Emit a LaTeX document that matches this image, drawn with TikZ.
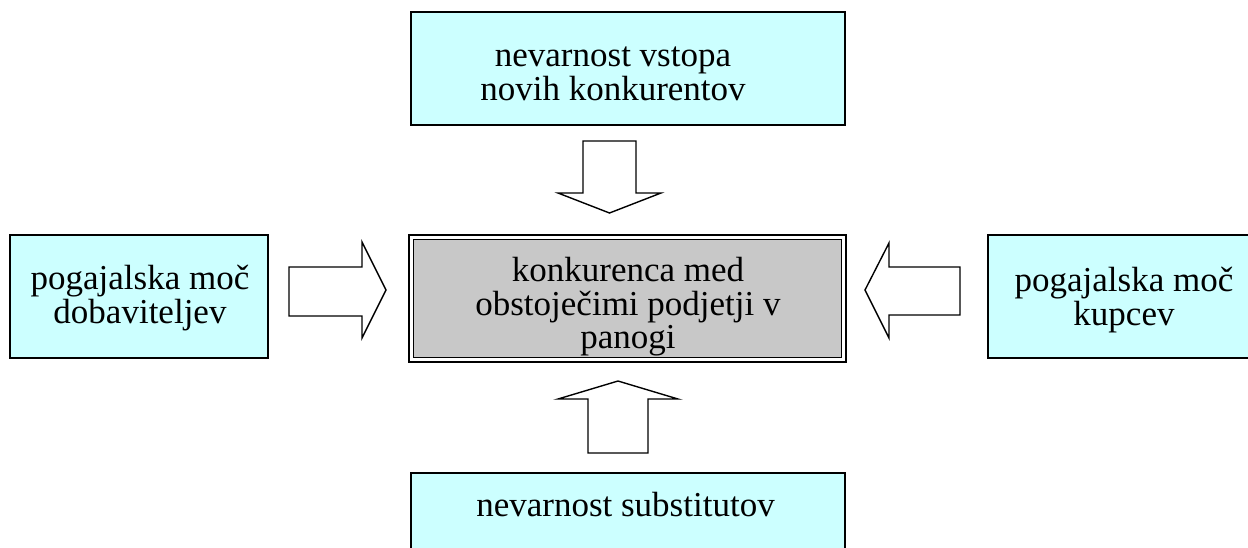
\documentclass[tikz,border=0pt]{standalone}
\usepackage{fontspec}
\setmainfont{Liberation Serif}
\definecolor{boxcyan}{HTML}{CCFFFF}
\definecolor{boxgray}{RGB}{200,200,200}
\begin{document}
\begin{tikzpicture}[x=1pt,y=-1pt,
  cyanbox/.style={draw=black,line width=1.6pt,fill=boxcyan,inner sep=0pt},
  lbl/.style={align=center,inner sep=0pt,font=\fontsize{35}{33.5}\selectfont},
  blockarrow/.style={draw=black,line width=1.4pt,fill=white,line join=miter}]
\useasboundingbox (0,0) rectangle (1248,547);
\clip (0,0) rectangle (1248,547);
% boxes
\node[cyanbox,minimum width=434pt,minimum height=113pt] (top) at (628,68.5) {};
\node[lbl] (topT) at (613,74) {nevarnost vstopa\\novih konkurentov};
\node[cyanbox,minimum width=258pt,minimum height=123pt] (left) at (139,296.5) {};
\node[lbl] (leftT) at (140,298) {pogajalska moč\\dobaviteljev};
\node[cyanbox,minimum width=272pt,minimum height=123pt] (right) at (1124,296.5) {};
\node[lbl] (rightT) at (1124,300) {pogajalska moč\\kupcev};
\node[draw=black,line width=2.6pt,fill=white,minimum width=437pt,minimum height=127pt,inner sep=0pt] (mid) at (627.5,298.5) {};
\node[draw=black,line width=1.2pt,fill=boxgray,minimum width=428pt,minimum height=118pt,inner sep=0pt] (midIn) at (mid.center) {};
\node[lbl] (midT) at (628,307) {konkurenca med\\obstoječimi podjetji v\\panogi};
\node[cyanbox,minimum width=434pt,minimum height=120pt] (bot) at (628,533) {};
\node[lbl,anchor=base] (botT) at (625.5,516) {nevarnost substitutov};
% block arrows
\draw[blockarrow] (583,141) -- (636,141) -- (636,193) -- (661,193) -- (609.5,213) -- (558,193) -- (583,193) -- cycle;
\draw[blockarrow] (588,453) -- (648,453) -- (648,399) -- (678,399) -- (618,381) -- (558,399) -- (588,399) -- cycle;
\draw[blockarrow] (289,267) -- (362,267) -- (362,242) -- (386,290) -- (362,338) -- (362,316) -- (289,316) -- cycle;
\draw[blockarrow] (960,267) -- (889,267) -- (889,243) -- (865,290) -- (889,338) -- (889,315) -- (960,315) -- cycle;
\end{tikzpicture}
\end{document}
